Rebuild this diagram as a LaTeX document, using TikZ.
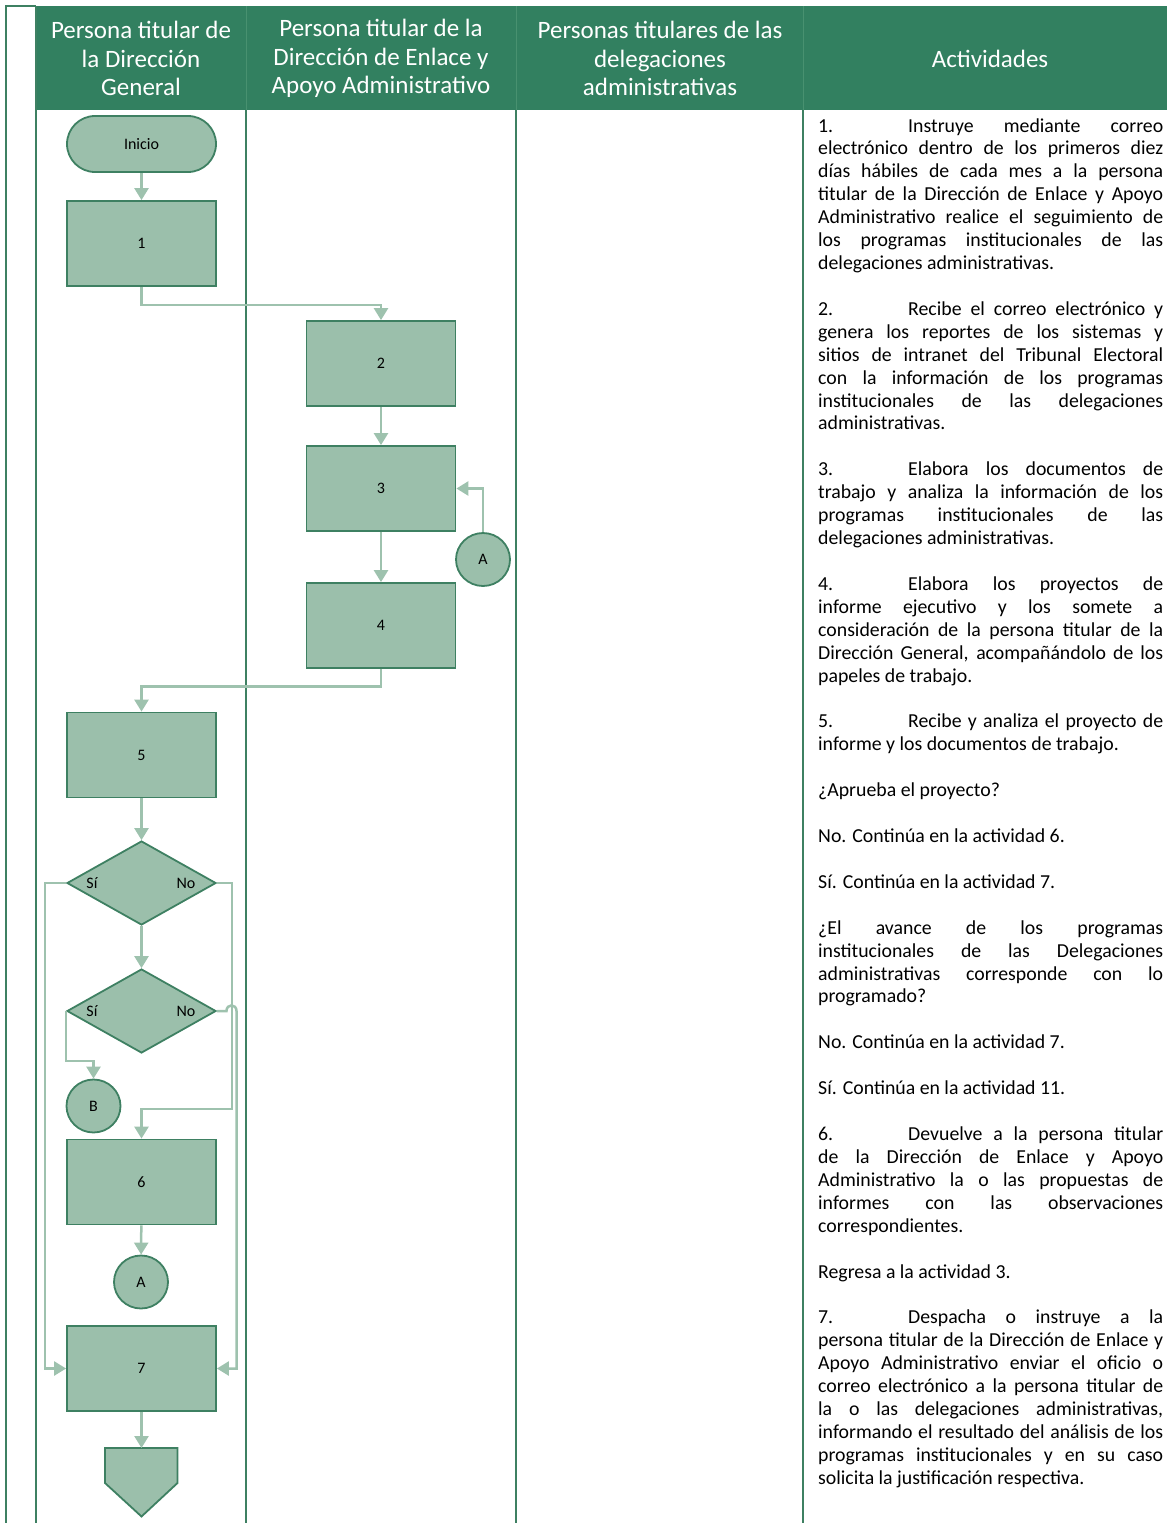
\documentclass[tikz,border=0pt]{standalone}
\usepackage{fontspec}
\setmainfont{Carlito}
\usetikzlibrary{arrows.meta,shapes.geometric}
\definecolor{headc}{RGB}{50,128,96}
\definecolor{headl}{RGB}{72,145,112}
\definecolor{fillc}{RGB}{155,191,171}
\definecolor{bordc}{RGB}{62,128,98}
\definecolor{connc}{RGB}{158,194,174}
\begin{document}
\begin{tikzpicture}[x=1pt,y=-1pt,
  shp/.style={draw=bordc, line width=1.8pt, fill=fillc, inner sep=0pt, font=\fontsize{16}{19}\selectfont},
  stepbox/.style={shp, rectangle, minimum width=149pt, minimum height=85pt},
  term/.style={shp, rectangle, rounded corners=28pt, minimum width=149pt, minimum height=56pt},
  dec/.style={shp, diamond, minimum width=149pt, minimum height=84pt},
  conr/.style={shp, ellipse, minimum width=54pt, minimum height=53pt},
  conn/.style={draw=connc, line width=2.5pt, -{Triangle[width=14pt,length=12pt]}},
  lane/.style={draw=bordc, line width=2pt},
  hdr/.style={text=white, align=center, inner sep=0pt, font=\fontsize{25}{28.5}\selectfont},
  lbl/.style={inner sep=0pt, font=\fontsize{16}{19}\selectfont}]
\useasboundingbox (0,0) rectangle (1167,1523);

% lanes and header
\fill[headc] (36,6) rectangle (1167,110);
\draw[line width=1pt, headl] (246,6) -- (246,110);
\draw[line width=1pt, headl] (516,6) -- (516,110);
\draw[line width=1pt, headl] (803,6) -- (803,110);
\draw[lane] (6,6) -- (6,1523);
\draw[lane] (5,6) -- (36,6);
\draw[lane] (36,6) -- (36,1523);
\draw[lane] (246,110) -- (246,1523);
\draw[lane] (516,110) -- (516,1523);
\draw[lane] (803,110) -- (803,1523);

\node[hdr] (h1) at (141,58.5) {Persona titular de\\la Dirección\\General};
\node[hdr] (h2) at (381,58.5) {Persona titular de la\\Dirección de Enlace y\\Apoyo Administrativo};
\node[hdr] (h3) at (660,58.5) {Personas titulares de las\\delegaciones\\administrativas};
\node[hdr] (h4) at (990,58.5) {Actividades};

% flow nodes
\node[term] (start) at (141.5,144) {Inicio};
\node[stepbox] (n1) at (141.5,243.5) {1};
\node[stepbox] (n2) at (381,363.5) {2};
\node[stepbox] (n3) at (381,488.5) {3};
\node[conr] (aR) at (483,559.5) {A};
\node[stepbox] (n4) at (381,625.5) {4};
\node[stepbox] (n5) at (141.5,755) {5};
\node[dec] (d1) at (141.5,883) {};
\node[lbl] (d1s) at (92,883) {Sí};
\node[lbl] (d1n) at (186,883) {No};
\node[dec] (d2) at (141.5,1011) {};
\node[lbl] (d2s) at (92,1011) {Sí};
\node[lbl] (d2n) at (186,1011) {No};
\node[conr] (b) at (93.5,1106) {B};
\node[stepbox] (n6) at (141.5,1182) {6};
\node[conr] (a2) at (141,1282) {A};
\node[stepbox] (n7) at (141.5,1368.5) {7};
\draw[draw=bordc, line width=1.8pt, fill=fillc] (105,1448) -- (177.5,1448) -- (177.5,1483) -- (141.5,1516.5) -- (105,1483) -- cycle;
\coordinate (offp) at (141.5,1448);

% connectors
\draw[conn] (start) -- (n1);
\draw[conn] (n1.south) -- ++(0,18) -| (n2.north);
\draw[conn] (n2) -- (n3);
\draw[conn] (n3) -- (n4);
\draw[conn] (aR.north) |- (n3.east);
\draw[conn] (n4.south) -- ++(0,17.5) -| (n5.north);
\draw[conn] (n5) -- (d1);
\draw[conn] (d1) -- (d2);
\draw[conn] (d1.west) -- ++(-21,0) |- (n7.west);
\draw[conn] (d1.east) -- ++(15,0) -- ++(0,226) -| (n6.north);
\draw[conn] (d2.west) -- ++(0,50) -| (b.north);
\draw[conn] (d2.east) -- (226.5,1011) .. controls (226.5,1003.5) and (236.5,1003.5) .. (236.5,1011) |- (n7.east);
\draw[conn] (n6) -- (a2);
\draw[conn] (n7) -- (offp);

% activities text
\node[anchor=base west, inner sep=0pt, text width=345pt, align=justify] (acts) at (818,132) {\fontsize{19.8}{22.92}\selectfont\setlength\parskip{22.92pt}\setlength\parindent{0pt}%
\makebox[90pt][l]{1.}Instruye mediante correo\linebreak
electrónico dentro de los primeros diez\linebreak
días hábiles de cada mes a la persona\linebreak
titular de la Dirección de Enlace y Apoyo\linebreak
Administrativo realice el seguimiento de\linebreak
los programas institucionales de las\linebreak
delegaciones administrativas.

\makebox[90pt][l]{2.}Recibe el correo electrónico y\linebreak
genera los reportes de los sistemas y\linebreak
sitios de intranet del Tribunal Electoral\linebreak
con la información de los programas\linebreak
institucionales de las delegaciones\linebreak
administrativas.

\makebox[90pt][l]{3.}Elabora los documentos de\linebreak
trabajo y analiza la información de los\linebreak
programas institucionales de las\linebreak
delegaciones administrativas.

\makebox[90pt][l]{4.}Elabora los proyectos de\linebreak
informe ejecutivo y los somete a\linebreak
consideración de la persona titular de la\linebreak
Dirección General, acompañándolo de los\linebreak
papeles de trabajo.

\makebox[90pt][l]{5.}Recibe y analiza el proyecto de\linebreak
informe y los documentos de trabajo.

¿Aprueba el proyecto?

No. Continúa en la actividad 6.

Sí. Continúa en la actividad 7.

¿El avance de los programas\linebreak
institucionales de las Delegaciones\linebreak
administrativas corresponde con lo\linebreak
programado?

No. Continúa en la actividad 7.

Sí. Continúa en la actividad 11.

\makebox[90pt][l]{6.}Devuelve a la persona titular\linebreak
de la Dirección de Enlace y Apoyo\linebreak
Administrativo la o las propuestas de\linebreak
informes con las observaciones\linebreak
correspondientes.

Regresa a la actividad 3.

\makebox[90pt][l]{7.}Despacha o instruye a la\linebreak
persona titular de la Dirección de Enlace y\linebreak
Apoyo Administrativo enviar el oficio o\linebreak
correo electrónico a la persona titular de\linebreak
la o las delegaciones administrativas,\linebreak
informando el resultado del análisis de los\linebreak
programas institucionales y en su caso\linebreak
solicita la justificación respectiva.\par};
\end{tikzpicture}
\end{document}
